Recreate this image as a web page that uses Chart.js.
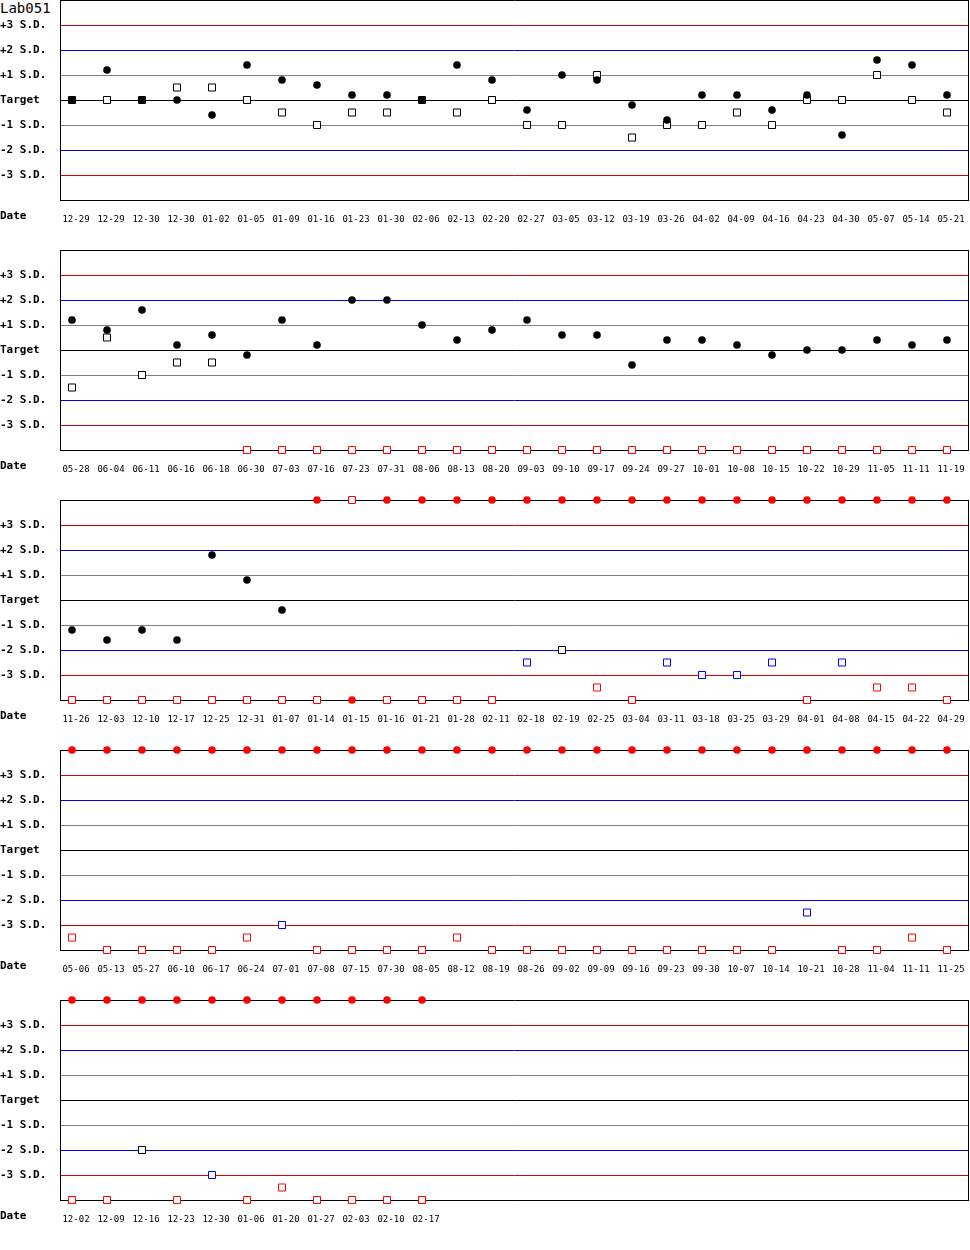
<!DOCTYPE html>
<html>
<head>
<meta charset="utf-8">
<title>Lab051</title>
<script src="https://cdn.jsdelivr.net/npm/chart.js@4.4.1/dist/chart.umd.min.js"></script>
<style>
  html,body{margin:0;padding:0;background:#fff;overflow:hidden;}
  #page{position:relative;width:970px;height:1250px;}
  .panel{position:absolute;left:0;width:970px;height:260px;}
  .panel canvas{display:block;}
  .lbl{position:absolute;left:0;font-family:"DejaVu Sans Mono",monospace;color:#000;white-space:nowrap;}
  #title{top:0;font-size:14px;line-height:16px;}
  .date{font-size:11px;font-weight:bold;line-height:14px;}
</style>
</head>
<body>
<div id="page">
  <div id="title" class="lbl">Lab051</div>
</div>
<script>
/* ===== Data (values in S.D. from target, +/-4 = off scale) ===== */
const yTicks      = [-3, -2, -1, 0, 1, 2, 3];
const yTickLabels = ['-3 S.D.', '-2 S.D.', '-1 S.D.', 'Target', '+1 S.D.', '+2 S.D.', '+3 S.D.'];

const p1Dates  = ['12-29','12-29','12-30','12-30','01-02','01-05','01-09','01-16','01-23','01-30','02-06','02-13','02-20','02-27','03-05','03-12','03-19','03-26','04-02','04-09','04-16','04-23','04-30','05-07','05-14','05-21'];
const p1Level1 = [0, 1.2, 0, 0, -0.6, 1.4, 0.8, 0.6, 0.2, 0.2, 0, 1.4, 0.8, -0.4, 1.0, 0.8, -0.2, -0.8, 0.2, 0.2, -0.4, 0.2, -1.4, 1.6, 1.4, 0.2];
const p1Level2 = [0, 0, 0, 0.5, 0.5, 0, -0.5, -1, -0.5, -0.5, 0, -0.5, 0, -1, -1, 1, -1.5, -1, -1, -0.5, -1, 0, 0, 1, 0, -0.5];

const p2Dates  = ['05-28','06-04','06-11','06-16','06-18','06-30','07-03','07-16','07-23','07-31','08-06','08-13','08-20','09-03','09-10','09-17','09-24','09-27','10-01','10-08','10-15','10-22','10-29','11-05','11-11','11-19'];
const p2Level1 = [1.2, 0.8, 1.6, 0.2, 0.6, -0.2, 1.2, 0.2, 2, 2, 1, 0.4, 0.8, 1.2, 0.6, 0.6, -0.6, 0.4, 0.4, 0.2, -0.2, 0, 0, 0.4, 0.2, 0.4];
const p2Level2 = [-1.5, 0.5, -1, -0.5, -0.5, -4, -4, -4, -4, -4, -4, -4, -4, -4, -4, -4, -4, -4, -4, -4, -4, -4, -4, -4, -4, -4];

const p3Dates  = ['11-26','12-03','12-10','12-17','12-25','12-31','01-07','01-14','01-15','01-16','01-21','01-28','02-11','02-18','02-19','02-25','03-04','03-11','03-18','03-25','03-29','04-01','04-08','04-15','04-22','04-29'];
const p3Level1 = [-1.2, -1.6, -1.2, -1.6, 1.8, 0.8, -0.4, 4, -4, 4, 4, 4, 4, 4, 4, 4, 4, 4, 4, 4, 4, 4, 4, 4, 4, 4];
const p3Level2 = [-4, -4, -4, -4, -4, -4, -4, -4, 4, -4, -4, -4, -4, -2.5, -2, -3.5, -4, -2.5, -3, -3, -2.5, -4, -2.5, -3.5, -3.5, -4];

const p4Dates  = ['05-06','05-13','05-27','06-10','06-17','06-24','07-01','07-08','07-15','07-30','08-05','08-12','08-19','08-26','09-02','09-09','09-16','09-23','09-30','10-07','10-14','10-21','10-28','11-04','11-11','11-25'];
const p4Level1 = [4, 4, 4, 4, 4, 4, 4, 4, 4, 4, 4, 4, 4, 4, 4, 4, 4, 4, 4, 4, 4, 4, 4, 4, 4, 4];
const p4Level2 = [-3.5, -4, -4, -4, -4, -3.5, -3, -4, -4, -4, -4, -3.5, -4, -4, -4, -4, -4, -4, -4, -4, -4, -2.5, -4, -4, -3.5, -4];

const p5Dates  = ['12-02','12-09','12-16','12-23','12-30','01-06','01-20','01-27','02-03','02-10','02-17'];
const p5Level1 = [4, 4, 4, 4, 4, 4, 4, 4, 4, 4, 4];
const p5Level2 = [-4, -4, -2, -4, -3, -4, -3.5, -4, -4, -4, -4];

const panels = [
  {dates:p1Dates, level1:p1Level1, level2:p1Level2},
  {dates:p2Dates, level1:p2Level1, level2:p2Level2},
  {dates:p3Dates, level1:p3Level1, level2:p3Level2},
  {dates:p4Dates, level1:p4Level1, level2:p4Level2},
  {dates:p5Dates, level1:p5Level1, level2:p5Level2}
];

/* ===== Styling helpers ===== */
// 26 slots per row, 35px apart; plot starts 12px before the first slot, ends 21px after the last
const X_MIN = -12/35, X_MAX = 25 + 21/35;
function flagColor(v){
  const a = Math.abs(v);
  if(a > 3) return '#ff0000';
  if(a > 2) return '#0000ff';
  return '#000000';
}
function gridColor(v){
  const a = Math.abs(v);
  if(a === 3) return '#d80000';
  if(a === 2) return '#0000f0';
  if(a === 1) return '#808080';
  return '#000000';
}

/* ===== Charts ===== */
const page = document.getElementById('page');
panels.forEach((p, n) => {
  const box = document.createElement('div');
  box.className = 'panel';
  box.style.top = (250*n - 10) + 'px';
  const cv = document.createElement('canvas');
  cv.width = 970; cv.height = 260;
  box.appendChild(cv);
  page.appendChild(box);

  const dl = document.createElement('div');
  dl.className = 'lbl date';
  dl.textContent = 'Date';
  dl.style.top = (250*n + 209) + 'px';
  page.appendChild(dl);

  new Chart(cv, {
    type:'scatter',
    data:{ datasets:[
      { data:p.level1.map((v,i)=>({x:i, y:v})), pointStyle:'circle', pointRadius:3.8, pointBorderWidth:0,
        pointBackgroundColor:c=>flagColor(c.raw.y), clip:false },
      { data:p.level2.map((v,i)=>({x:i, y:v})), pointStyle:'rect', pointRadius:4.95, pointBorderWidth:1,
        pointBorderColor:c=>flagColor(c.raw.y), pointBackgroundColor:'#ffffff', clip:false }
    ]},
    options:{
      responsive:false, animation:false, devicePixelRatio:1, events:[],
      layout:{ autoPadding:false, padding:{top:10, right:2, left:0, bottom:0} },
      plugins:{ legend:{display:false}, tooltip:{enabled:false} },
      scales:{
        x:{
          type:'linear', min:X_MIN, max:X_MAX,
          afterBuildTicks:s=>{ s.ticks = p.dates.map((d,i)=>({value:i})).concat([{value:X_MAX}]); },
          afterFit:s=>{ s.height = 50; s.paddingLeft = 0; s.paddingRight = 0; },
          grid:{ drawTicks:false, color:c=>(c.tick && c.tick.value === X_MAX) ? '#000' : 'rgba(0,0,0,0)' },
          border:{ color:'#000' },
          ticks:{ autoSkip:false, maxRotation:0, padding:14, labelOffset:4, color:'#000',
                  font:{family:'DejaVu Sans Mono', size:9},
                  callback:v=>Number.isInteger(v) ? p.dates[v] : '' }
        },
        y:{
          min:-4, max:4,
          afterBuildTicks:s=>{ s.ticks = [-4,-3,-2,-1,0,1,2,3,4].map(v=>({value:v})); },
          afterFit:s=>{ s.width = 60; },
          grid:{ drawTicks:false, color:c=>gridColor(c.tick.value) },
          border:{ color:'#000' },
          ticks:{ crossAlign:'far', padding:0, color:'#000',
                  font:{family:'DejaVu Sans Mono', size:11, weight:'bold'},
                  callback:v=>{ const k = yTicks.indexOf(v); return k < 0 ? '' : yTickLabels[k]; } }
        }
      }
    }
  });
});
</script>
</body>
</html>
